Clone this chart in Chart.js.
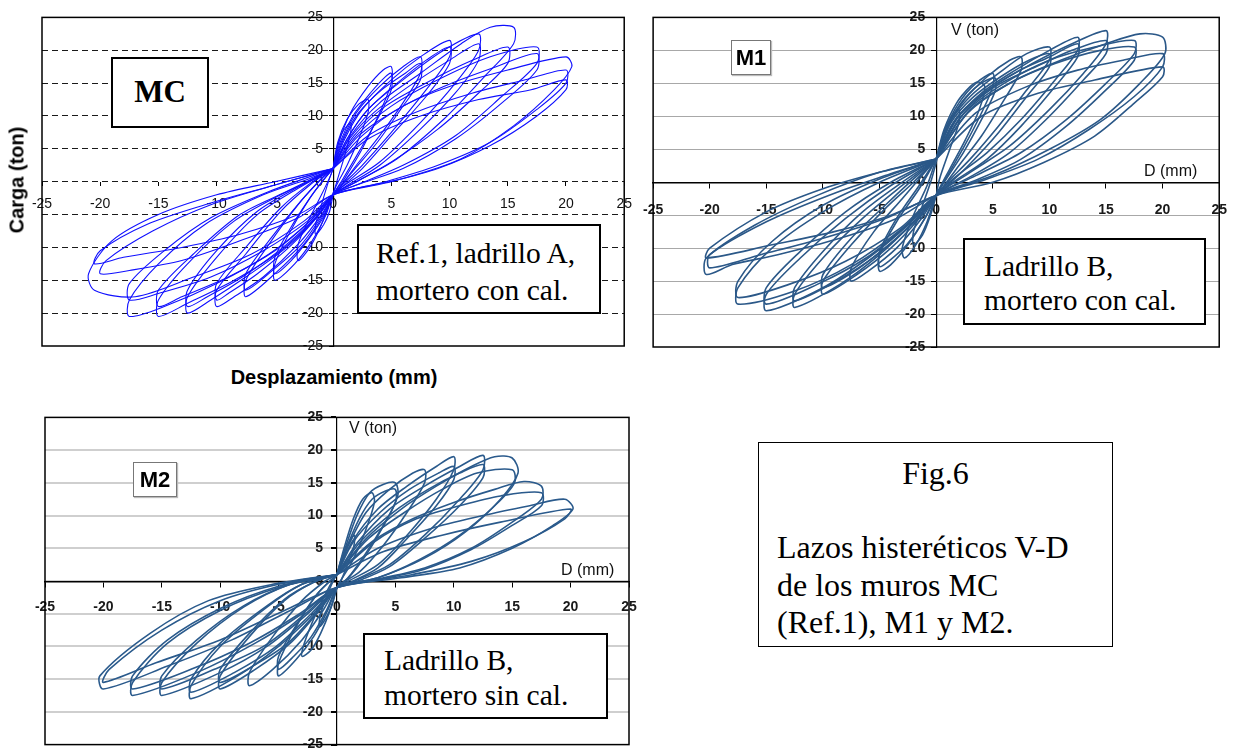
<!DOCTYPE html>
<html>
<head>
<meta charset="utf-8">
<script src="https://cdn.jsdelivr.net/npm/chart.js@4.4.1/dist/chart.umd.min.js"></script>
<style>
  body { margin: 0; width: 1242px; height: 751px; overflow: hidden; background: #fff; position: relative; }
  canvas { position: absolute; }
  .box { position: absolute; background: #fff; border: 2px solid #000; box-sizing: border-box; color: #000; white-space: nowrap; }
  .txt { font-family: "Liberation Serif", "Times New Roman", serif; font-size: 29.5px; }
  .tag { position: absolute; background: #fff; border: 1px solid #777; box-sizing: border-box; font: bold 22px "Liberation Sans", Arial, sans-serif; text-align: center; line-height: 33px; box-shadow: 1px 1px 1px #bbb; }
  .lbl { position: absolute; font: 16px "Liberation Sans", Arial, sans-serif; color: #111; white-space: nowrap; }
  .ttl { position: absolute; font: bold 20px "Liberation Sans", Arial, sans-serif; color: #000; white-space: nowrap; }
</style>
</head>
<body>
<canvas id="mc" width="630" height="360" style="left:12px;top:3px"></canvas>
<canvas id="m1" width="614" height="360" style="left:628px;top:3px"></canvas>
<canvas id="m2" width="630" height="362" style="left:20px;top:400px"></canvas>

<!-- MC -->
<div class="ttl" style="left:17px;top:180px;transform:translate(-50%,-50%) rotate(-90deg);">Carga (ton)</div>
<div class="ttl" style="left:334px;top:377px;transform:translate(-50%,-50%);">Desplazamiento (mm)</div>
<div class="box" style="left:111px;top:57px;width:98px;height:71px;font-family:'Liberation Serif','Times New Roman',serif;font-weight:bold;font-size:31px;text-align:center;line-height:66px;">MC</div>
<div class="box txt" style="left:357px;top:224px;width:244px;height:90px;padding:9px 0 0 17px;line-height:37px;">Ref.1, ladrillo A,<br>mortero con cal.</div>

<!-- M1 -->
<div class="lbl" style="left:951px;top:21px;">V (ton)</div>
<div class="lbl" style="left:1144px;top:162px;">D (mm)</div>
<div class="tag" style="left:731px;top:40px;width:40px;height:35px;">M1</div>
<div class="box txt" style="left:963px;top:238px;width:243px;height:87px;padding:9px 0 0 19px;line-height:34px;">Ladrillo B,<br>mortero con cal.</div>

<!-- M2 -->
<div class="lbl" style="left:349px;top:419px;">V (ton)</div>
<div class="lbl" style="left:561px;top:561px;">D (mm)</div>
<div class="tag" style="left:133px;top:462px;width:44px;height:35px;">M2</div>
<div class="box txt" style="left:363px;top:633px;width:245px;height:86px;padding:8px 0 0 19px;line-height:35px;">Ladrillo B,<br>mortero sin cal.</div>

<!-- Fig. 6 -->
<div class="box" style="left:758px;top:442px;width:355px;height:205px;border-width:1.5px;font-family:'Liberation Serif','Times New Roman',serif;font-size:32px;">
  <div style="position:absolute;left:0;right:0;top:11px;text-align:center;line-height:38px;">Fig.6</div>
  <div style="position:absolute;left:18px;top:86px;line-height:37.5px;">Lazos histeréticos V-D<br>de los muros MC<br>(Ref.1), M1 y M2.</div>
</div>

<script>
// rango de ejes comun a los tres paneles
const axisMin = -25;
const axisMax = 25;
const tickStep = 5;

// MC (Ref.1) - ciclos, [D mm, V ton]
const mcLoops = [
  [[0,2],[0.3,5],[0.8,7.5],[1.5,9],[1.5,7.5],[1,4],[0.4,0.5],[0,-2],[-0.3,-4.5],[-0.8,-6.5],[-1.5,-8],[-1.5,-6.5],[-1,-3.5],[-0.4,0],[0,2]],
  [[0,2],[0.4,6],[1.2,9.5],[2.2,11.8],[3,12.5],[3,10.5],[2.2,6.5],[1.2,2.5],[0.3,-0.5],[-0.3,-3],[-1,-6.5],[-2,-10],[-3,-12],[-3,-9.5],[-2,-5.5],[-1,-2],[-0.2,1],[0,2]],
  [[0,2],[0.5,6],[1.5,10.5],[3,14.5],[4.3,17],[5,17.5],[5,15],[4,10.5],[2.5,5],[1,0.5],[0,-2],[-0.6,-5],[-1.8,-9],[-3.3,-12.5],[-5,-15],[-5,-12.5],[-3.5,-7],[-2,-2.5],[-0.7,0.5],[0,2]],
  [[0,2],[0.6,6],[1.7,10],[3.2,13.5],[4.5,16],[5,16.5],[5,14],[3.8,9.5],[2.2,4.5],[0.8,0.3],[0,-2],[-0.7,-5],[-2,-8.5],[-3.6,-12],[-5,-14],[-5,-11.5],[-3.3,-6],[-1.8,-2],[-0.6,0.8],[0,2]],
  [[0,2],[0.7,6],[2,10.5],[4,14.5],[6,17.5],[7.5,19],[7.5,16.5],[6,12],[4,7],[2,2.5],[0.5,-1],[0,-2],[-0.8,-5],[-2.5,-9.5],[-5,-14],[-7.5,-17.5],[-7.5,-15],[-5.5,-9.5],[-3,-3.5],[-1,0.5],[0,2]],
  [[0,2],[0.9,6.5],[2.2,10.5],[4.2,14],[6.2,16.5],[7.5,18],[7.5,15.5],[5.8,11],[3.8,6],[1.8,1.8],[0.4,-1.2],[0,-2],[-0.9,-5],[-2.7,-9.5],[-5.2,-13.5],[-7.5,-16.5],[-7.5,-14],[-5.3,-8.5],[-2.8,-3],[-0.9,0.6],[0,2]],
  [[0,2],[1,6.5],[2.5,11],[5,15.5],[7.5,19],[10,21.5],[10,19],[8,14],[5,7.5],[2.5,2.5],[0.5,-1],[0,-2],[-1,-5],[-3,-9.5],[-6,-14.5],[-8.5,-17.5],[-10,-19],[-10,-16.5],[-7.5,-11],[-4.5,-4.5],[-2,-0.5],[0,2]],
  [[0,2],[1.2,6.5],[3,11],[5.5,15],[8,18.5],[10,20.5],[10,18],[8,13],[5,7],[2.5,2],[0.5,-1.2],[0,-2],[-1.2,-5],[-3.5,-9.5],[-6.5,-14],[-9,-17],[-10,-18],[-10,-15.5],[-7.5,-10],[-4.5,-4],[-2,-0.3],[0,2]],
  [[0,2],[1.2,6.5],[3,11],[6,15.5],[9.5,20],[12.5,22.5],[12.5,20],[10.5,15],[7.5,9],[4,3],[1,-0.5],[0,-2],[-1.2,-5],[-4,-10],[-7.5,-14.5],[-10.5,-18],[-12.5,-20],[-12.5,-17.5],[-10,-11.5],[-6.5,-5],[-3,-1],[0,2]],
  [[0,2],[1.4,6.5],[3.5,10.5],[6.5,14.5],[10,18.5],[12.5,21],[12.5,18.5],[10.5,13.5],[7.5,8],[4,2.5],[1,-0.8],[0,-2],[-1.4,-5.2],[-4.3,-10],[-7.8,-14.5],[-10.8,-17.5],[-12.5,-19],[-12.5,-16.5],[-10,-10.5],[-6.5,-4.5],[-3,-0.8],[0,2]],
  [[0,2],[1.5,7],[4,12],[7.5,16.5],[11,21],[13.5,23.5],[15.5,23.5],[15.5,21],[13,16],[9.5,9.5],[5.5,3.5],[2,0],[0,-2],[-1.5,-5.5],[-4.5,-10.5],[-8.5,-15],[-12.5,-18.5],[-15,-20.5],[-15,-18],[-12.5,-12.5],[-8.5,-6],[-4.5,-2],[-1.5,0.5],[0,2]],
  [[0,2],[1.8,7],[4.5,11.5],[8.5,15.5],[12,18.5],[15,20.5],[15,18],[12.5,13.5],[9,8],[5,3],[1.5,-0.5],[0,-2],[-2,-6],[-5,-10.5],[-9,-14.5],[-13,-17.5],[-15,-19],[-15,-16.5],[-12,-11],[-8,-5],[-4,-1.5],[0,2]],
  [[0,2],[2,7],[5,11.5],[9,15.5],[13.5,19],[17.5,20.5],[17.5,18],[14.5,13],[10.5,7],[6,2.5],[2,-0.5],[0,-2],[-2,-6],[-5.5,-11],[-10,-15.5],[-14.5,-19],[-17.5,-20.5],[-17.5,-18],[-15,-12.5],[-11,-6.5],[-6,-2],[-2,0.5],[0,2]],
  [[0,2],[2.2,7],[5.5,11],[9.5,14.5],[14,17.5],[17.5,19.5],[17.5,17],[14.5,12],[10.5,6.5],[6,2],[2,-0.5],[0,-2],[-2.2,-6],[-6,-10.5],[-10.5,-14.5],[-15,-17],[-17.5,-18],[-17.5,-15.5],[-14.5,-10.5],[-10.5,-5.5],[-5.5,-1.5],[0,2]],
  [[0,2],[2.5,7],[6,11.5],[10,14.5],[15,17],[20,19],[20.5,17.5],[19,14],[15.5,8.5],[11,3.5],[6,0.5],[2,-1],[0,-2],[-2.5,-6],[-7,-11],[-12,-14.5],[-17,-17.5],[-20.5,-16.5],[-21,-14],[-19,-9],[-15,-5],[-10,-2],[-5,0],[0,2]],
  [[0,2],[3,7],[7,10.5],[12,13.5],[16.5,15.5],[20,17],[20,15],[17.5,11],[13.5,6],[9,2.5],[4.5,0],[0,-2],[-3,-5],[-8,-8],[-13,-10],[-18,-11.5],[-20.5,-12.5],[-20,-10.5],[-16,-6.5],[-11,-3.5],[-5,-0.5],[0,2]],
  [[0,2],[3,6.5],[7.5,10],[12.5,12.5],[17,14],[20,15.5],[20,14],[17.5,10],[13.5,5.5],[9,2],[4.5,-0.2],[0,-2],[-3,-5.5],[-8,-9],[-13,-12],[-17.5,-13.5],[-20,-14],[-19.5,-12],[-15.5,-7.5],[-10.5,-3.5],[-5,-0.5],[0,2]]
];

// M1 - ladrillo B, mortero con cal
const m1Loops = [
  [[0,3],[0.5,6.5],[1.2,9.5],[2,11],[2,9],[1.2,5],[0.3,0.5],[0,-2],[-0.5,-5],[-1.2,-8],[-2,-9.5],[-2,-7.5],[-1.2,-3.5],[-0.4,0.5],[0,3]],
  [[0,3.5],[0.7,8],[1.8,12],[3,14.5],[3.7,15.2],[4.3,14.5],[3.8,11],[2.6,6.5],[1.2,2],[0,-2],[-0.8,-6],[-1.8,-9.5],[-2.8,-11.5],[-3,-10],[-2,-5],[-0.8,-0.5],[0,3.5]],
  [[0,3.5],[0.8,8],[2,12],[3.5,15],[5,16.5],[5,14.5],[4,10.5],[2.5,5.5],[1,1],[0,-2],[-1,-5.5],[-2.5,-9.5],[-4,-12.5],[-5,-13.5],[-5,-11],[-3.5,-6],[-1.5,-1],[0,3.5]],
  [[0,3.5],[0.9,8],[2.2,12],[3.8,14.8],[5.2,15.8],[5.2,13.8],[4,9.5],[2.4,4.5],[0.9,0.5],[0,-2],[-1,-5.5],[-2.6,-9.5],[-4.2,-12],[-5,-12.8],[-5,-10.5],[-3.5,-5.5],[-1.5,-0.5],[0,3.5]],
  [[0,3.5],[1,8.5],[2.5,12.5],[4.5,16],[6.5,18.5],[7.5,19],[7.5,17],[6,12.5],[4,7],[2,2.5],[0.5,-1],[0,-2],[-1.3,-5.5],[-3.5,-10],[-6,-13.5],[-7.5,-15],[-7.5,-13],[-5.5,-7.5],[-3,-2.5],[-1,1.5],[0,3.5]],
  [[0,3.5],[1.2,9],[3,13],[5.5,16.5],[8,19.5],[10,20.5],[10,18.5],[8,14],[5.5,8.5],[3,3.5],[1,0],[0,-2],[-1.5,-5.5],[-4,-10],[-7,-14],[-10,-17],[-10,-15],[-7.5,-9.5],[-4.5,-4],[-2,0],[0,3.5]],
  [[0,3.5],[1.3,9],[3.2,12.8],[5.7,16],[8.2,18.5],[10,19.5],[10,17.5],[8,13],[5.5,7.5],[3,2.8],[1,-0.5],[0,-2],[-1.6,-5.5],[-4.2,-9.5],[-7.2,-13.5],[-10,-16],[-10,-14],[-7.5,-8.5],[-4.5,-3.5],[-2,0.5],[0,3.5]],
  [[0,3.5],[1.5,9],[4,13.5],[7,17],[10,20],[12.5,22],[12.5,20],[10.5,15.5],[7.5,9.5],[4.5,4.5],[1.5,0.5],[0,-2],[-2,-6],[-5,-11],[-8.5,-15.5],[-12.5,-19],[-12.5,-17],[-10,-11.5],[-6.5,-5.5],[-3,-0.5],[0,3.5]],
  [[0,3.5],[1.7,9.5],[4.2,13.5],[7.2,16.8],[10,19],[12.5,21],[12.5,19],[10.5,14.5],[7.5,8.5],[4.5,3.5],[1.5,0],[0,-2],[-2,-6],[-5.2,-11],[-8.8,-15],[-12.5,-18],[-12.5,-16],[-10,-10.5],[-6.5,-4.5],[-3,0],[0,3.5]],
  [[0,3.5],[2,10],[5,14.5],[8.5,18],[12,21],[15,23],[15,21],[13,16.5],[10,11],[6.5,5.5],[3,1.5],[0,-2],[-2.5,-6.5],[-6,-11.5],[-10,-16],[-15,-19.5],[-15,-17],[-12,-11.5],[-8,-5.5],[-4,-0.5],[0,3.5]],
  [[0,3.5],[2.2,10],[5.2,14.5],[8.8,17.5],[12,20],[15,21.5],[15,19.5],[13,15.5],[10,10],[6.5,4.5],[3,0.8],[0,-2],[-2.6,-6.5],[-6.2,-11.5],[-10.5,-15.5],[-15,-18.5],[-15,-16],[-12,-10.5],[-8,-4.5],[-4,0],[0,3.5]],
  [[0,3.5],[2.5,10.5],[6,15],[10,18.5],[14,20.5],[17.5,21.5],[17.5,19.5],[15,15],[11.5,9.5],[7.5,4.5],[3.5,1],[0,-2],[-3,-7],[-7.5,-12.5],[-12.5,-16.5],[-17.5,-18.5],[-17.5,-16],[-14.5,-10],[-10,-4.5],[-5,0],[0,3.5]],
  [[0,3.5],[2.8,10.5],[6.5,15],[10.5,18],[14.5,20],[17.5,20.5],[17.5,18.5],[15,14],[11.5,8.5],[7.5,3.5],[3.5,0.3],[0,-2],[-3.2,-7],[-8,-12],[-13,-15.5],[-17.5,-17.5],[-17.5,-15],[-14.5,-9],[-10,-3.5],[-5,0.5],[0,3.5]],
  [[0,3.5],[3,11],[7,15.5],[11,18.5],[15,21],[18,22.5],[20,22],[20.2,19.5],[18,15],[14.5,9.5],[10,5],[5,1],[0,-2],[-3.5,-5.5],[-8.5,-8.5],[-14,-11],[-18,-12.5],[-20.3,-14],[-20.3,-11.5],[-16,-6.5],[-10.5,-2],[-5,1.5],[0,3.5]],
  [[0,3.5],[3.5,10.5],[8,14.5],[12.5,17],[16.5,18.5],[20,19.5],[20,17.5],[17.5,13],[13.5,8],[9,3.5],[4.5,0.5],[0,-2],[-4,-5],[-9,-7.5],[-14.5,-9.5],[-20.3,-11.5],[-20,-10],[-15,-4.5],[-10,-1],[-5,1.5],[0,3.5]],
  [[0,3.5],[4,10],[9,13.5],[14,15.5],[20,17.5],[20,16],[17.5,12],[14,7],[9.5,3],[5,0],[0,-2],[-4.5,-5.5],[-10,-8.5],[-15.5,-11],[-20,-13],[-20,-11],[-15,-6],[-9.5,-2],[-4.5,1],[0,3.5]]
];

// M2 - ladrillo B, mortero sin cal
const m2Loops = [
  [[0,1],[0.4,3.5],[0.9,5.5],[1.5,7],[1.4,5],[0.8,2],[0.2,-0.5],[0,-1],[-0.4,-3.5],[-0.9,-5.5],[-1.5,-7],[-1.4,-5],[-0.8,-2],[-0.2,0.5],[0,1]],
  [[0,1],[0.6,5],[1.4,9.5],[2.2,12.5],[3,13.5],[3.2,12],[2.4,7.5],[1.3,3],[0.3,0],[0,-1],[-0.6,-4.5],[-1.4,-8],[-2.2,-10.5],[-3,-11.5],[-2.8,-9.5],[-1.8,-5],[-0.7,-1],[0,1]],
  [[0,1],[0.7,5],[1.7,10],[2.8,13.5],[4,14.8],[5,15],[5.2,13],[4,8.5],[2.5,4],[1,0.5],[0,-1],[-0.8,-4.5],[-2,-8.5],[-3.5,-12],[-5,-14.5],[-5,-12.5],[-3.5,-7],[-1.7,-2],[0,1]],
  [[0,1],[0.8,5],[1.9,9.5],[3,12.5],[4.2,13.8],[5,14],[5,12],[3.8,8],[2.3,3.8],[0.9,0.4],[0,-1],[-0.9,-4.5],[-2.2,-8.5],[-3.7,-11.5],[-5,-13.5],[-5,-11.5],[-3.4,-6.5],[-1.6,-1.8],[0,1]],
  [[0,1],[1,5.5],[2.5,10.5],[4.5,14],[6.5,16.5],[7.5,17],[7.5,15],[6,10.5],[4,5.5],[2,1.5],[0,-1],[-1.2,-4.5],[-3,-9],[-5.5,-13.5],[-7.5,-16],[-7.5,-14],[-5.5,-8.5],[-3,-3],[-1,0],[0,1]],
  [[0,1],[1.3,6],[3.5,11],[6,14.5],[8.5,17.5],[10,19],[10,17],[8.5,12.5],[6,7],[3.5,2.5],[1,0],[0,-1],[-1.5,-4.5],[-4,-9.5],[-7,-13.5],[-10,-16.5],[-10,-14.5],[-7.5,-8.5],[-4.5,-3],[-2,-0.2],[0,1]],
  [[0,1],[1.4,6],[3.7,10.5],[6.2,14],[8.7,16.5],[10,17.5],[10,15.5],[8.5,11.5],[6,6.5],[3.5,2],[1,-0.3],[0,-1],[-1.6,-4.5],[-4.2,-9.5],[-7.2,-13],[-10,-15.5],[-10,-13.5],[-7.5,-8],[-4.5,-2.8],[-2,-0.2],[0,1]],
  [[0,1],[1.8,6],[4.5,11],[7.5,14.5],[10.5,17.5],[12.5,19.2],[12.5,17],[10.5,12.5],[7.5,7],[4.5,2.5],[1.5,0],[0,-1],[-2,-5],[-5,-10],[-8.5,-14.5],[-12.5,-18],[-12.5,-16],[-10,-10],[-6,-4],[-3,-0.5],[0,1]],
  [[0,1],[2,6],[4.8,10.5],[7.8,14],[10.5,16.5],[12.5,17.8],[12.5,15.8],[10.5,11.5],[7.5,6.5],[4.5,2.2],[1.5,-0.2],[0,-1],[-2.2,-5],[-5.2,-10],[-8.8,-14],[-12.5,-17],[-12.5,-15],[-10,-9.5],[-6,-3.8],[-3,-0.5],[0,1]],
  [[0,1],[2.5,6.5],[5.5,11],[8.5,14.5],[11.5,17.5],[13.5,19],[15,18.8],[15.5,16.5],[14,12.5],[11,7.5],[7.5,3.5],[3.5,0.5],[0,-1],[-2.5,-5],[-6,-10],[-10,-14],[-15,-17.5],[-15,-15.5],[-12,-9.5],[-8,-4],[-4,-0.5],[0,1]],
  [[0,1],[2.7,6.5],[5.8,10.5],[9,14],[12,16.5],[15,17],[15.2,15],[13.5,11.5],[10.5,7],[7,3.2],[3.5,0.5],[0,-1],[-2.7,-5],[-6.3,-10],[-10.5,-13.5],[-15,-16.5],[-15,-14.5],[-12,-9],[-8,-3.8],[-4,-0.5],[0,1]],
  [[0,1],[3,6],[6.5,9.5],[10,12],[13.5,14],[16,15.2],[17.5,14.5],[17.5,12.5],[15,9],[11.5,5],[7.5,2],[3.5,0.3],[0,-1],[-3,-5],[-7,-9.5],[-12,-14],[-17.5,-17.5],[-17.5,-15.5],[-14.5,-9.5],[-10,-4.5],[-5,-1],[0,1]],
  [[0,1],[3.2,6],[6.8,9.5],[10.5,11.5],[14,13],[17.5,13.5],[17.5,11.5],[15,8.5],[11.5,4.8],[7.5,1.8],[3.5,0.2],[0,-1],[-3.2,-5],[-7.5,-9.5],[-12.5,-13.5],[-17.5,-16.5],[-17.5,-14.5],[-14.5,-9],[-10,-4.2],[-5,-0.8],[0,1]],
  [[0,1],[3.5,5],[8,8],[12.5,10],[16.5,11.5],[19.5,12.5],[20.2,11],[18.5,8.5],[15,5],[10.5,2],[5.5,0.5],[0,-1],[-4,-4.5],[-9,-9],[-14.5,-13],[-20,-16.5],[-20.3,-14.5],[-16,-8],[-11,-3],[-5.5,-0.5],[0,1]],
  [[0,1],[4,4.5],[9,7],[14,9],[20,11],[19.5,9.5],[16,6],[11.5,3],[6.5,1],[0,-1],[-4.5,-4.5],[-10,-9],[-15.5,-12.5],[-20,-15.5],[-19.5,-13.5],[-15,-7.5],[-10,-3],[-5,-0.5],[0,1]]
];

// marco negro del area de trazado
const frame = {
  id: 'frame',
  afterDraw(chart, args, opts) {
    const { ctx, chartArea: a } = chart;
    ctx.save();
    ctx.strokeStyle = '#000';
    ctx.lineWidth = opts.width || 1.5;
    ctx.strokeRect(a.left, a.top, a.right - a.left, a.bottom - a.top);
    ctx.restore();
  }
};

function makeChart(id, loops, cfg) {
  const datasets = loops.map(loop => ({
    data: loop.map(p => ({ x: p[0], y: p[1] })),
    showLine: true,
    borderColor: cfg.color,
    borderWidth: cfg.lineWidth,
    pointRadius: 0,
    tension: 0.3,
    fill: false
  }));

  // rango simetrico: 'center' deja los ejes en x=0 / y=0
  return new Chart(document.getElementById(id), {
    type: 'scatter',
    data: { datasets },
    options: {
      responsive: false,
      animation: false,
      events: [],
      layout: { padding: cfg.padding },
      plugins: { legend: { display: false }, tooltip: { enabled: false }, frame: { width: 1.5 } },
      scales: {
        x: {
          type: 'linear',
          min: axisMin, max: axisMax,
          position: 'center',
          ticks: { stepSize: tickStep, autoSkip: false, maxRotation: 0, padding: cfg.xPad, color: cfg.tickColor, font: cfg.tickFont },
          grid: { drawOnChartArea: false, drawTicks: true, tickLength: cfg.tickLen, color: '#000', tickColor: '#000' },
          border: cfg.xBorder
        },
        y: {
          type: 'linear',
          min: axisMin, max: axisMax,
          position: 'center',
          ticks: { stepSize: tickStep, autoSkip: false, padding: cfg.yPad, color: cfg.tickColor, font: cfg.tickFont },
          grid: {
            color: ctx => (ctx.tick && Math.abs(ctx.tick.value) === 25) ? 'rgba(0,0,0,0)' : cfg.gridColor,
            lineWidth: cfg.gridWidth,
            tickColor: '#000',
            tickLength: cfg.tickLen,
            tickBorderDash: [],
            drawTicks: true
          },
          // en v4 border.dash es el trazo de las lineas de grilla
          border: { display: true, color: '#000', width: 1.2, dash: cfg.gridDash }
        }
      }
    },
    plugins: [frame]
  });
}

makeChart('mc', mcLoops, {
  color: '#1010ff', lineWidth: 1.1,
  padding: { left: 30, top: 12, right: 16, bottom: 17 },
  tickColor: '#111', tickFont: { family: 'Liberation Sans', size: 14 },
  tickLen: 4, xPad: 10, yPad: 6,
  gridColor: '#1a1a1a', gridWidth: 1, gridDash: [6, 4],
  xBorder: { display: false }
});

makeChart('m1', m1Loops, {
  color: '#2b5888', lineWidth: 1.6,
  padding: { left: 20, top: 12, right: 13, bottom: 16 },
  tickColor: '#1a1a1a', tickFont: { family: 'Liberation Sans', size: 14, weight: 'bold' },
  tickLen: 5, xPad: 15, yPad: 6,
  gridColor: '#a8a8a8', gridWidth: 1, gridDash: [],
  xBorder: { display: true, color: '#000', width: 1.5 }
});

makeChart('m2', m2Loops, {
  color: '#2a5a8c', lineWidth: 1.6,
  padding: { left: 25, top: 13, right: 21, bottom: 14 },
  tickColor: '#1a1a1a', tickFont: { family: 'Liberation Sans', size: 14, weight: 'bold' },
  tickLen: 5, xPad: 13, yPad: 9,
  gridColor: '#cfcfcf', gridWidth: 2, gridDash: [],
  xBorder: { display: true, color: '#000', width: 1.5 }
});
</script>
</body>
</html>
